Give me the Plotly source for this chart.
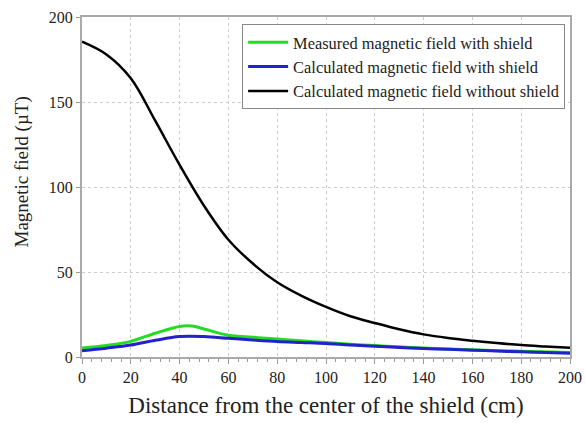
import plotly.graph_objects as go

x_black = [0, 10, 20, 30, 40, 50, 60, 70, 80, 90, 100, 110, 120, 130, 140, 150, 160, 170, 180, 190, 200]
y_black = [185.5, 178, 164, 139, 113, 89, 69, 55, 44, 36, 29.5, 24, 20, 16.3, 13.3, 11.2, 9.6, 8.2, 7, 6.2, 5.5]

x_green = [0, 10, 20, 30, 40, 45, 50, 60, 70, 80, 90, 100, 110, 120, 130, 140, 160, 180, 200]
y_green = [5.3, 6.8, 9.2, 14, 18, 18.2, 16.5, 12.8, 11.6, 10.6, 9.5, 8.5, 7.5, 6.7, 6, 5.3, 4.2, 3.4, 2.6]

x_blue = [0, 10, 20, 30, 40, 50, 60, 70, 80, 90, 100, 110, 120, 130, 140, 150, 160, 170, 180, 190, 200]
y_blue = [3.7, 5.2, 7, 9.8, 12, 12, 11, 10, 9.1, 8.5, 7.9, 7, 6.3, 5.6, 5, 4.5, 4, 3.5, 3.1, 2.6, 2.2]

names = ["Measured magnetic field with shield",
         "Calculated magnetic field with shield",
         "Calculated magnetic field without shield"]
colors = ["#22dd22", "#2222cc", "#000000"]
x_title = "Distance from the center of the shield (cm)"
y_title = "Magnetic field (µT)"

fig = go.Figure()
fig.add_trace(go.Scatter(x=x_green, y=y_green, mode="lines", name=names[0],
                         line=dict(color=colors[0], width=3, shape="spline")))
fig.add_trace(go.Scatter(x=x_blue, y=y_blue, mode="lines", name=names[1],
                         line=dict(color=colors[1], width=3, shape="spline")))
fig.add_trace(go.Scatter(x=x_black, y=y_black, mode="lines", name=names[2],
                         line=dict(color=colors[2], width=2.5, shape="spline")))

font = "Liberation Serif, Times New Roman, serif"
fig.update_layout(
    width=585, height=423,
    margin=dict(l=82, r=15, t=17, b=66),
    paper_bgcolor="white", plot_bgcolor="white",
    font=dict(family=font, color="#222222"),
    showlegend=True,
    legend=dict(x=0.99, y=0.979, xanchor="right", yanchor="top",
                bgcolor="white", bordercolor="#888888", borderwidth=1,
                font=dict(size=16.4, family=font, color="#222222"),
                tracegroupgap=0, itemwidth=40),
    xaxis=dict(range=[0, 200], tickvals=list(range(0, 201, 20)),
               showgrid=True, gridcolor="#cccccc", griddash="dot", gridwidth=1,
               showline=True, linecolor="#aaaaaa", linewidth=2, mirror=True,
               ticks="outside", ticklen=5, tickcolor="#999999",
               minor=dict(dtick=4, ticks="outside", ticklen=3, tickcolor="#999999", showgrid=False),
               tickfont=dict(size=16, family=font),
               title=dict(text=x_title, font=dict(size=23, family=font), standoff=12),
               zeroline=False, automargin=False),
    yaxis=dict(range=[0, 200], tickvals=[0, 50, 100, 150, 200],
               showgrid=True, gridcolor="#cccccc", griddash="dot", gridwidth=1,
               showline=True, linecolor="#aaaaaa", linewidth=2, mirror=True,
               ticks="outside", ticklen=4, tickcolor="#999999",
               tickfont=dict(size=16, family=font),
               zeroline=False, automargin=False),
    annotations=[dict(text=y_title, textangle=-90, xref="paper", yref="paper",
                      x=-0.122, y=0.544, xanchor="center", yanchor="middle",
                      showarrow=False, font=dict(size=19, family=font, color="#222222"))],
)

fig.write_html("out.html")
